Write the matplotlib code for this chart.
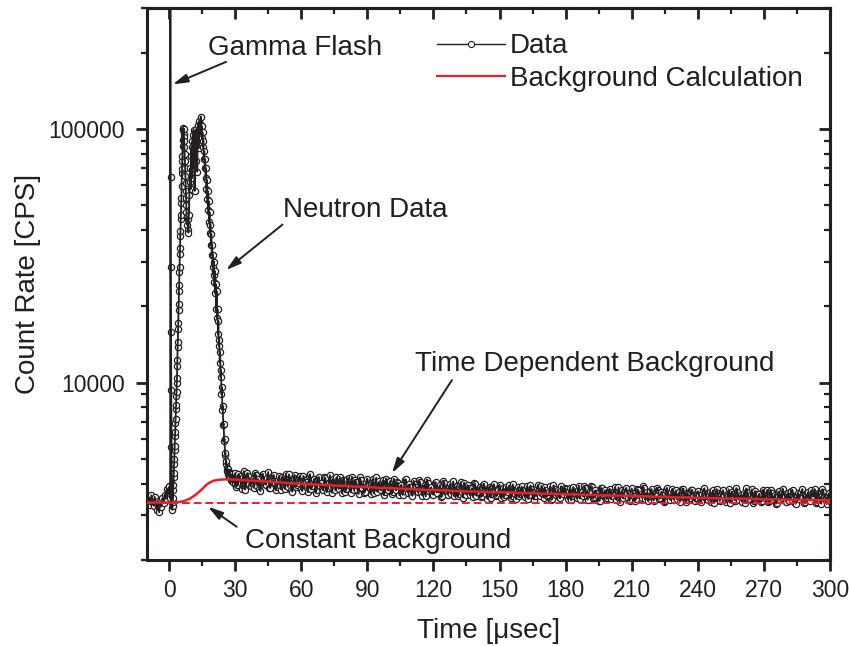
import numpy as np
import matplotlib
matplotlib.use('Agg')
import matplotlib.pyplot as plt
from matplotlib.lines import Line2D
from matplotlib.ticker import MultipleLocator, LogLocator, FuncFormatter, NullFormatter

plt.rcParams['font.family'] = ['Liberation Sans', 'DejaVu Sans']

INK = '#231f20'
RED = '#e8202a'

# time grids (usec) and count rates
t_pre = np.arange(-10, 0, 0.5)
rate_pre = [3450, 3380, 3520, 3300, 3600, 3400, 3280, 3550, 3350, 3150,
            3420, 3080, 3380, 3250, 3500, 3350, 3620, 3480, 3800, 3700]

t_flash = np.round(np.arange(0, 8, 0.1), 2)
rate_flash = [3850, 3650, 3900, 3600, 3750, 3500, 520000, 64900, 28600, 15800,
              9360, 5600, 4000, 3350, 3200, 3150, 3280, 3380, 3520, 3780,
              3950, 4250, 4420, 4800, 5000, 5420, 5650, 6150, 6400, 6950,
              7200, 7850, 8150, 8850, 9200, 10000, 10400, 11600, 12300, 13800,
              14500, 16300, 17200, 19400, 20400, 23000, 24200, 27300, 28700, 32300,
              34000, 37900, 39500, 44000, 45800, 51000, 53500, 59500, 67000, 69500,
              74500, 78000, 86000, 90500, 99500, 101000, 96000, 100000, 93000, 90000,
              85000, 80000, 75000, 70000, 65500, 61000, 57000, 53500, 50000, 47000]

t_peak = np.round(np.arange(8, 30, 0.2), 2)
rate_peak = [45000, 42000, 44000, 40000, 39000, 46000, 55000, 62000, 70000, 58000,
             78000, 85000, 64000, 90000, 95000, 70000, 99000, 88000, 57000, 92000,
             97000, 75000, 100000, 90000, 68000, 96000, 104000, 84000, 100000, 108000,
             95000, 105000, 112000, 98000, 103000, 92000, 97000, 85000, 90000, 76000,
             82000, 70000, 76000, 64000, 70000, 58000, 63000, 53000, 57000, 48000,
             52000, 43000, 47000, 39000, 42000, 35000, 38500, 32000, 35000, 28500,
             32000, 26500, 30000, 25000, 27500, 22500, 24500, 19500, 23000, 18000,
             19500, 15500, 17500, 14000, 14800, 12000, 13200, 10500, 11200, 9000,
             9600, 7800, 8100, 6800, 6900, 5900, 6000, 5200, 5300, 4800,
             4900, 4500, 4600, 4350, 4550, 4300, 4450, 4250, 4400, 4200,
             4350, 4150, 4300, 4100, 4350, 4200, 4050, 4300, 4150, 4000]

# slow tail, whole microseconds
t_tail = np.arange(30, 301, 1)
rate_tail = [4390, 3950, 4280, 3820, 4480, 4060, 4300, 3900, 4180, 4420,
             3930, 3810, 4310, 4150, 3960, 4450, 3850, 4260, 4030, 3880,
             4300, 3790, 4200, 4380, 3880, 4090, 3720, 4330, 3960, 4240,
             3820, 4290, 4060, 3700, 4360, 3900, 4180, 3780, 4250, 4010,
             3760, 4200, 3850, 4320, 3680, 4090, 4240, 3810, 3950, 4150,
             3700, 4180, 3900, 4260, 3770, 4050, 3640, 4130, 3990, 3720,
             4190, 3830, 4090, 3660, 4230, 3940, 3780, 4120, 3700, 4050,
             3880, 3640, 4180, 3760, 4020, 3890, 3610, 4140, 3800, 3970,
             3650, 4100, 3880, 3700, 4050, 3590, 3960, 4150, 3740, 3870,
             3620, 4060, 3810, 3950, 3580, 4020, 3730, 3900, 3640, 4080,
             3800, 3560, 3970, 3700, 4040, 3620, 3860, 3760, 3540, 3980,
             3700, 3880, 3560, 4000, 3650, 3820, 3520, 3930, 3740, 3600,
             3960, 3680, 3540, 3890, 3720, 3500, 3970, 3640, 3810, 3560,
             3900, 3620, 3780, 3480, 3940, 3700, 3560, 3850, 3640, 3920,
             3520, 3760, 3600, 3900, 3480, 3820, 3680, 3540, 3910, 3630,
             3800, 3470, 3860, 3590, 3720, 3500, 3930, 3650, 3560, 3840,
             3460, 3750, 3880, 3540, 3690, 3430, 3850, 3620, 3770, 3500,
             3820, 3560, 3700, 3450, 3870, 3610, 3500, 3790, 3660, 3420,
             3830, 3580, 3480, 3760, 3640, 3900, 3470, 3700, 3560, 3810,
             3430, 3680, 3790, 3520, 3620, 3410, 3850, 3560, 3700, 3460,
             3760, 3600, 3400, 3820, 3530, 3680, 3440, 3770, 3580, 3500,
             3730, 3420, 3650, 3840, 3480, 3600, 3390, 3760, 3540, 3680,
             3420, 3710, 3560, 3380, 3800, 3500, 3640, 3430, 3720, 3570,
             3400, 3690, 3830, 3470, 3600, 3370, 3740, 3520, 3650, 3410,
             3700, 3560, 3380, 3790, 3480, 3620, 3360, 3730, 3500, 3640,
             3400, 3680, 3550, 3780, 3370, 3610, 3470, 3720, 3350, 3590,
             3700, 3430, 3560, 3810, 3380, 3650, 3330, 3720, 3500, 3600, 3420]

# slow tail, half microseconds
t_tail_half = np.arange(30.5, 300, 1)
rate_tail_half = [3880, 4350, 4020, 4240, 3790, 4400, 3990, 4120, 3850, 4310,
                  4170, 3740, 4380, 3990, 4210, 3860, 4090, 4330, 3770, 4150,
                  3900, 4260, 3810, 4120, 4350, 3760, 4180, 3880, 4040, 4290,
                  3740, 4150, 3960, 4280, 3800, 4070, 3690, 4210, 3900, 3820,
                  4230, 3700, 4040, 3870, 4170, 3760, 3980, 4260, 3660, 4080,
                  3820, 4200, 3690, 3990, 4140, 3780, 4230, 3850, 3670, 4060,
                  3950, 3640, 4170, 3800, 3720, 4080, 3880, 3610, 4190, 3760,
                  4100, 3700, 3910, 4050, 3600, 3960, 3750, 4160, 3680, 3880,
                  3580, 3990, 3760, 4120, 3690, 3850, 3560, 4040, 3800, 3640,
                  4010, 3690, 3860, 3540, 4090, 3750, 3620, 3980, 3830, 3560,
                  3910, 3640, 4060, 3520, 3780, 3950, 3600, 3840, 4010, 3580,
                  3820, 3550, 3940, 3740, 3480, 3890, 3630, 3980, 3570, 3790,
                  3510, 3860, 3620, 3760, 3940, 3560, 3730, 3470, 3880, 3650,
                  3760, 3530, 3910, 3600, 3820, 3460, 3720, 3960, 3580, 3690,
                  3870, 3560, 3700, 3450, 3940, 3620, 3790, 3500, 3680, 3850,
                  3560, 3730, 3440, 3880, 3620, 3780, 3490, 3700, 3900, 3530,
                  3680, 3900, 3500, 3760, 3580, 3420, 3830, 3640, 3480, 3740,
                  3480, 3700, 3880, 3560, 3400, 3760, 3620, 3850, 3510, 3680,
                  3690, 3420, 3800, 3600, 3520, 3860, 3640, 3410, 3750, 3580,
                  3660, 3860, 3480, 3720, 3390, 3780, 3590, 3450, 3820, 3620,
                  3470, 3700, 3560, 3820, 3380, 3640, 3510, 3780, 3420, 3690,
                  3610, 3380, 3790, 3560, 3450, 3720, 3620, 3360, 3810, 3490,
                  3640, 3770, 3440, 3580, 3370, 3710, 3520, 3840, 3460, 3600,
                  3560, 3350, 3720, 3490, 3800, 3410, 3640, 3530, 3380, 3760,
                  3500, 3780, 3410, 3660, 3540, 3340, 3710, 3460, 3820, 3570,
                  3620, 3420, 3750, 3510, 3330, 3680, 3580, 3810, 3400, 3520,
                  3480, 3760, 3560, 3350, 3690, 3420, 3800, 3540, 3320, 3660]

# background calculation (red)
t_bg = [-10, 0, 3, 5, 7, 9.5, 12, 14, 15.5, 17, 18.5, 20, 22, 24, 26, 28, 30,
        35, 40, 45, 50, 55, 60, 65, 70, 75, 80, 85, 90, 95, 100, 105, 110, 115,
        120, 125, 130, 135, 140, 145, 150, 155, 160, 165, 170, 175, 180, 185,
        190, 195, 200, 205, 210, 215, 220, 225, 230, 235, 240, 245, 250, 255,
        260, 265, 270, 275, 280, 285, 290, 295, 300]
rate_bg = [3370, 3370, 3375, 3390, 3420, 3490, 3610, 3735, 3840, 3960, 4040, 4100,
           4135, 4150, 4160, 4155, 4150,
           4120, 4100, 4070, 4050, 4010, 4000, 3970, 3960, 3930, 3920, 3890, 3880,
           3850, 3850, 3820, 3810, 3780, 3780, 3760, 3740, 3730, 3720, 3700, 3700,
           3690, 3670, 3670, 3650, 3650, 3630, 3630, 3610, 3610, 3590, 3590, 3570,
           3570, 3550, 3550, 3530, 3530, 3510, 3510, 3500, 3490, 3490, 3480, 3470,
           3470, 3460, 3450, 3450, 3440, 3440]
const_bg = 3370

x_ticks = np.arange(0, 301, 30)

fig = plt.figure(figsize=(8.51, 6.46), dpi=100)
ax = fig.add_axes([147 / 851, 86 / 646, 683 / 851, 552 / 646])

t_all = np.concatenate([t_pre, t_flash, t_peak, t_tail, t_tail_half])
rate_all = np.concatenate([rate_pre, rate_flash, rate_peak, rate_tail, rate_tail_half])
order = np.argsort(t_all, kind='stable')
t_all, rate_all = t_all[order], rate_all[order]

data_style = dict(color=INK, lw=1.0, marker='o', ms=4.4, mfc='white', mec=INK, mew=0.8)

# symbols first, connecting line on top: dense parts turn into a dark band
ax.plot(t_all, rate_all, ls='none', marker='o', ms=4.5, mfc='white', mec=INK, mew=0.9, zorder=2)
ax.plot(t_all, rate_all, color=INK, lw=1.3, zorder=2.5)

ax.plot(t_bg, rate_bg, color=RED, lw=1.8, zorder=3)
ax.plot([-10, 300], [const_bg, const_bg], color=RED, lw=1.4, ls=(0, (4, 2)), zorder=3)

ax.set_yscale('log')
ax.set_xlim(-10, 300)
ax.set_ylim(2000, 300000)

ax.set_xticks(x_ticks)
ax.xaxis.set_minor_locator(MultipleLocator(15))
ax.yaxis.set_major_locator(LogLocator(base=10))
ax.yaxis.set_minor_locator(LogLocator(base=10, subs=np.arange(2, 10)))
ax.yaxis.set_major_formatter(FuncFormatter(lambda v, p: '%d' % v))
ax.yaxis.set_minor_formatter(NullFormatter())

for s in ax.spines.values():
    s.set_linewidth(2.2)
    s.set_color(INK)
ax.tick_params(which='major', direction='out', length=8, width=2, colors=INK, labelsize=16.5)
ax.tick_params(which='minor', direction='out', length=4.5, width=1.6, colors=INK)
ax.tick_params(axis='x', which='major', pad=6)
ax.tick_params(axis='y', which='major', pad=8)

top = ax.secondary_xaxis('top')
top.set_xticks(x_ticks)
top.xaxis.set_minor_locator(MultipleLocator(15))
top.tick_params(which='major', direction='in', length=8, width=2, colors=INK, labeltop=False)
top.tick_params(which='minor', direction='in', length=4.5, width=1.6, colors=INK)
top.spines['top'].set_linewidth(2.2)

right = ax.secondary_yaxis('right')
right.yaxis.set_major_locator(LogLocator(base=10))
right.yaxis.set_minor_locator(LogLocator(base=10, subs=np.arange(2, 10)))
right.tick_params(which='major', direction='in', length=8, width=2, colors=INK, labelright=False)
right.tick_params(which='minor', direction='in', length=4.5, width=1.6, colors=INK, labelright=False)
right.yaxis.set_minor_formatter(NullFormatter())
right.spines['right'].set_linewidth(2.2)

ax.set_xlabel('Time [\u03bcsec]', fontsize=20, color=INK, labelpad=11)
ax.set_ylabel('Count Rate [CPS]', fontsize=20, color=INK, labelpad=5)

handles = [Line2D([], [], **data_style),
           Line2D([], [], color=RED, lw=1.6)]
leg = ax.legend(handles, ['Data', 'Background Calculation'], loc='upper left',
                bbox_to_anchor=(0.424, 0.954), frameon=False,
                fontsize=20, handlelength=2.45, handletextpad=0.2, labelspacing=0.23,
                borderpad=0, borderaxespad=0)
for txt in leg.get_texts():
    txt.set_color(INK)

arrow = dict(arrowstyle='-|>,head_length=0.6,head_width=0.17', mutation_scale=15,
             color=INK, lw=1.4, shrinkA=0, shrinkB=0)

ax.text(17.7, 208000, 'Gamma Flash', fontsize=20, color=INK, va='center')
ax.annotate('', xy=(1.7, 150000), xytext=(25.9, 184000), arrowprops=arrow)

ax.text(51.7, 45000, 'Neutron Data', fontsize=20, color=INK, va='baseline')
ax.annotate('', xy=(25.9, 27800), xytext=(51.5, 42000), arrowprops=arrow)

ax.text(111.6, 11120, 'Time Dependent Background', fontsize=20, color=INK, va='baseline')
ax.annotate('', xy=(101.2, 4400), xytext=(128.4, 10240), arrowprops=arrow)

ax.text(34.5, 2230, 'Constant Background', fontsize=20, color=INK, va='baseline')
ax.annotate('', xy=(17.7, 3245), xytext=(30.7, 2705), arrowprops=arrow)

fig.savefig('out.png', dpi=100)
